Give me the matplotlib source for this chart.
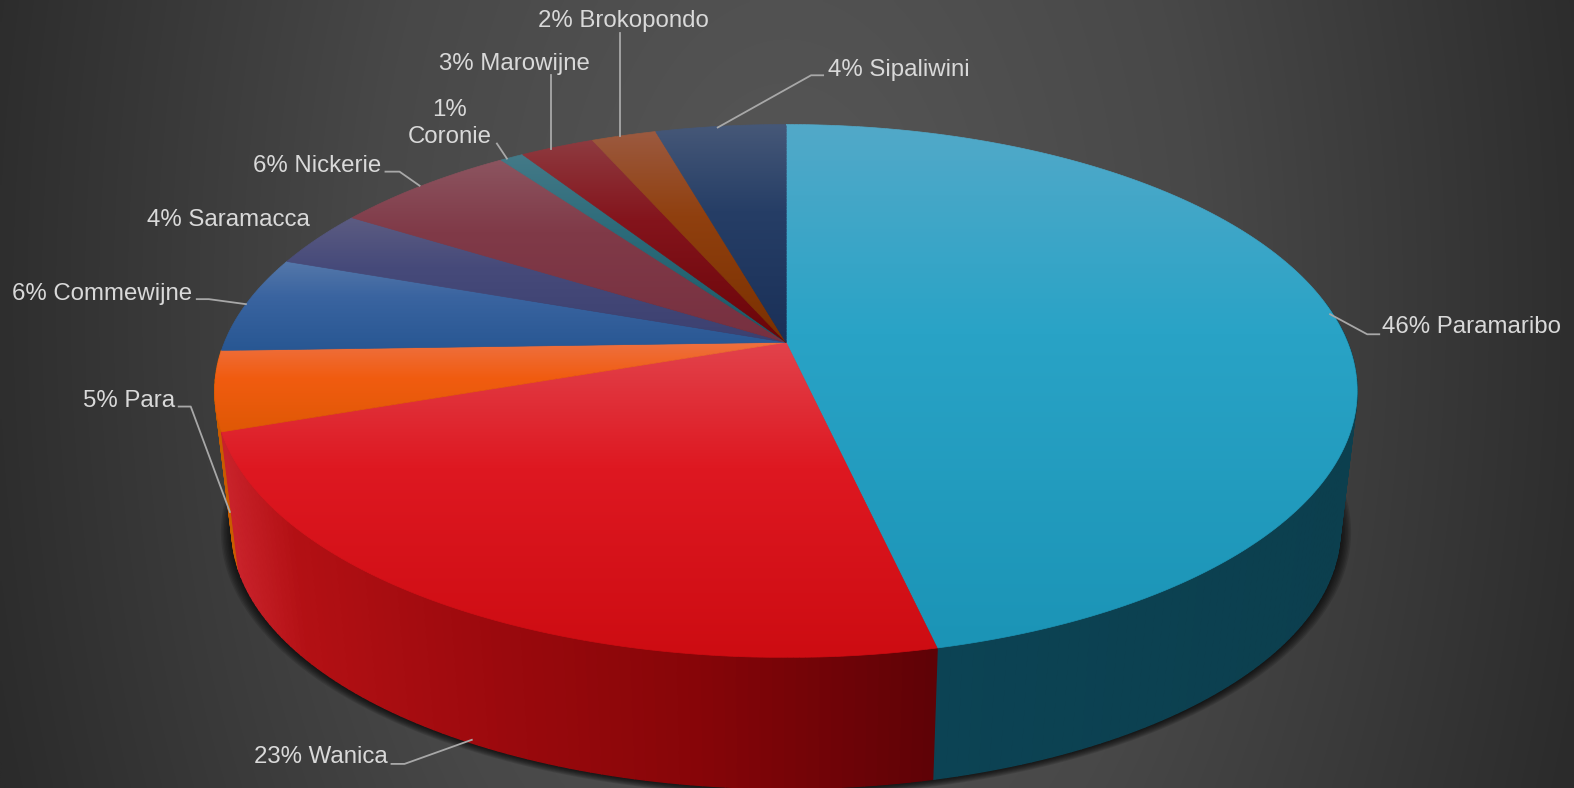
import numpy as np
import matplotlib
matplotlib.use("Agg")
import matplotlib.pyplot as plt
from matplotlib.patches import Polygon
from matplotlib.collections import PolyCollection, LineCollection
from matplotlib.colors import to_rgb

# ---- data ----
regions = ["Paramaribo", "Wanica", "Para", "Commewijne", "Saramacca",
           "Nickerie", "Coronie", "Marowijne", "Brokopondo", "Sipaliwini"]
shares = [46.45, 23.25, 4.8, 5.9, 3.5, 6.2, 0.8, 2.51, 2.19, 4.4]

# ---- styles: gradient stops per slice (light top, middle, bottom) ----
top_colors = [("#52a9c9", "#29a3c6", "#1b94b6"),
              ("#e2434c", "#de1821", "#cd0c12"),
              ("#ee7040", "#f15c10", "#df5805"),
              ("#5578aa", "#3a64a0", "#285793"),
              ("#5c5c82", "#464a7a", "#3c4070"),
              ("#8c5560", "#803a48", "#773040"),
              ("#447a88", "#2d6b7a", "#1a5a68"),
              ("#8e3b40", "#84141c", "#6a0408"),
              ("#9c5a40", "#90400f", "#7a3000"),
              ("#465878", "#263e66", "#1a3058")]
side_colors = {0: [(930, "#0c4354"), (1340, "#0c3f4e")],
               1: [(232, "#c8222a"), (300, "#b31014"), (500, "#9b090d"),
                   (700, "#860508"), (930, "#5e0206")],
               2: [(220, "#c85c00"), (240, "#c85c00")]}
text_color = "#d9d9d9"
leader_color = "#a8a8a8"

# label placement: region index -> (x, y, ha, leader path)
label_layout = {
    0: (1377, 326, "left", [(1325, 313), (1362, 333), (1374, 333)]),
    1: (386, 754, "right", [(470, 737), (403, 761), (390, 761)]),
    2: (174, 399, "right", [(229, 510), (190, 405), (178, 405)]),
    3: (191, 293, "right", [(245, 303), (208, 298), (196, 298)]),
    4: (309, 219, "right", None),
    5: (380, 165, "right", [(418, 185), (398, 171), (384, 171)]),
    6: (448, 123, "center", [(505, 158), (495, 143)]),
    7: (588, 64, "right", [(549, 148), (549, 75)]),
    8: (706, 21, "right", [(618, 135), (618, 33)]),
    9: (825, 70, "left", [(715, 127), (808, 75), (820, 75)]),
}

# ---- perspective model of the disc (in display units) ----
W, H = 1568, 785
CX, APEX_Y, LOW_Y = 783.0, 341.0, 481.0
A, B, K = 559.4, 256.6, 0.1827
LOW_S = 0.97


def project(deg, r=1.0, cy=APEX_Y, s=1.0):
    t = np.radians(deg)
    u, v = r * np.sin(t), r * np.cos(t)
    d = 1 + K * v
    return CX + s * A * u / d, cy - s * B * v / d


fig = plt.figure(figsize=(15.74, 7.88), dpi=100)
ax = fig.add_axes([0, 0, 1, 1])
ax.set_axis_off()

# background
yy, xx = np.mgrid[0:H:200j, 0:W:400j]
rr = np.sqrt(((xx - 784) / 830) ** 2 + ((yy - 300) / 1400) ** 2)
shade = np.interp(rr, [0, 0.5, 1.0], [0x58, 0x48, 0x2b]) / 255
ax.imshow(np.dstack([shade] * 3), extent=[0, W, H, 0], aspect="auto", zorder=0,
          interpolation="bilinear")

# shadow below the pie
ring = np.linspace(0, 360, 361)
for extra in np.arange(11, 0, -1.5):
    sx, sy = project(ring, cy=LOW_Y + 1, s=LOW_S + extra / 569)
    ax.add_patch(Polygon(np.c_[sx, sy], closed=True, fc="black", ec="none",
                         alpha=0.12, zorder=1))

# slice angles
fractions = np.array(shares) / np.sum(shares)
edges = np.concatenate([[0], np.cumsum(fractions) * 360])

# side wall
quads, quad_cols, quad_keys = [], [], []
for i, stops in side_colors.items():
    th = np.arange(edges[i], edges[i + 1] + 1.0, 1.0)
    th[-1] = edges[i + 1]
    th = th[np.r_[np.diff(th) > 0, True]]
    xs = [p[0] for p in stops]
    rgbs = np.array([to_rgb(p[1]) for p in stops])
    for a0, a1 in zip(th[:-1], th[1:]):
        if np.cos(np.radians(a0)) > 0.15 and np.cos(np.radians(a1)) > 0.15:
            continue
        x0, y0 = project(a0)
        x1, y1 = project(a1)
        x2, y2 = project(a1, cy=LOW_Y, s=LOW_S)
        x3, y3 = project(a0, cy=LOW_Y, s=LOW_S)
        quads.append([(x0, y0), (x1, y1), (x2, y2), (x3, y3)])
        xm = (x0 + x1 + x2 + x3) / 4
        quad_cols.append([np.interp(xm, xs, rgbs[:, c]) for c in range(3)])
        quad_keys.append(i if i != 2 else -1)
order = np.argsort(quad_keys, kind="stable")
ax.add_collection(PolyCollection([quads[j] for j in order],
                                 facecolors=[quad_cols[j] for j in order],
                                 edgecolors=[quad_cols[j] for j in order],
                                 linewidths=1.0, zorder=2))

# top face
for i in range(len(regions)):
    th = np.linspace(edges[i], edges[i + 1], max(int(edges[i + 1] - edges[i]) * 2, 6))
    px, py = project(th)
    rim = np.c_[px, py]
    poly = np.vstack([[CX, APEX_Y], rim])
    ymin, ymax = poly[:, 1].min(), poly[:, 1].max()
    xmin, xmax = poly[:, 0].min(), poly[:, 0].max()
    cols = np.array([to_rgb(c) for c in top_colors[i]])
    f = np.linspace(0, 1, 256)
    grad = np.stack([np.interp(f, [0, 0.4, 1], cols[:, c]) for c in range(3)], axis=1)
    im = ax.imshow(grad[:, None, :], extent=[xmin, xmax, ymax, ymin], aspect="auto",
                   zorder=3 + i * 0.01, interpolation="bilinear")
    clip = Polygon(poly, closed=True, transform=ax.transData)
    im.set_clip_path(clip)
    # smooth outline following the same gradient, radii subdivided
    t = np.linspace(0, 1, 60)[:, None]
    r0 = np.array([[CX, APEX_Y]]) + t * (rim[0] - [CX, APEX_Y])
    r1 = rim[-1] + t * (np.array([CX, APEX_Y]) - rim[-1])
    loop = np.vstack([r0, rim, r1])
    segs = np.stack([loop[:-1], loop[1:]], axis=1)
    fm = (segs[:, :, 1].mean(axis=1) - ymin) / max(ymax - ymin, 1)
    seg_col = np.stack([np.interp(fm, [0, 0.4, 1], cols[:, c]) for c in range(3)], axis=1)
    ax.add_collection(LineCollection(segs, colors=seg_col, linewidths=0.5,
                                     zorder=3 + i * 0.01))

ax.set_xlim(0, W)
ax.set_ylim(H, 0)

# labels
for i, name in enumerate(regions):
    x, y, ha, path = label_layout[i]
    sep = "\n" if name == "Coronie" else " "
    ax.text(x, y, f"{round(shares[i])}%{sep}{name}", ha=ha, va="center",
            ma="center", color=text_color, fontsize=17.3,
            family="Liberation Sans", linespacing=1.25, zorder=6)
    if path:
        ax.plot(*zip(*path), color=leader_color, lw=1.3, zorder=5,
                solid_joinstyle="round")

fig.savefig("out.png", dpi=100)
